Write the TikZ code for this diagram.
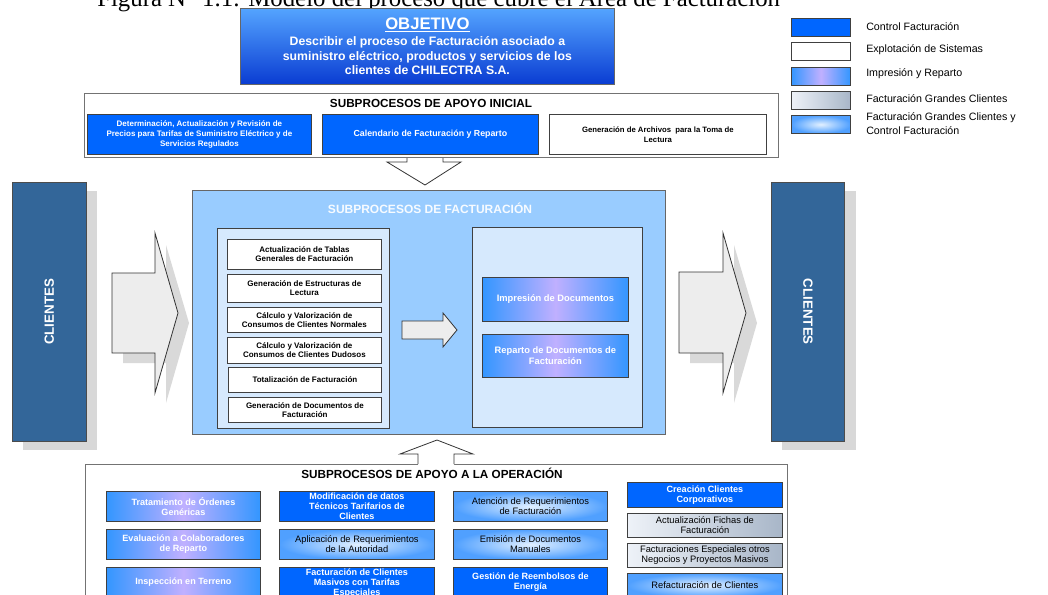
\documentclass[tikz,border=0pt]{standalone}
\usepackage{fontspec}
\setmainfont{Liberation Sans}
\newfontfamily\capfont{Liberation Serif}

\definecolor{ctrlblue}{RGB}{0,102,255}
\definecolor{imblue}{RGB}{51,150,255}
\definecolor{imlav}{RGB}{192,176,255}
\definecolor{gcleft}{RGB}{238,242,248}
\definecolor{gcright}{RGB}{168,182,200}
\definecolor{gccin}{RGB}{226,240,255}
\definecolor{gccout}{RGB}{80,160,255}
\definecolor{objtop}{RGB}{84,164,255}
\definecolor{objbot}{RGB}{10,60,210}
\definecolor{factbg}{RGB}{153,204,255}
\definecolor{panelbg}{RGB}{214,233,253}
\definecolor{cliblue}{RGB}{51,102,153}
\definecolor{shadowgray}{RGB}{216,216,216}

% box given by its top-left and bottom-right corners (pixel units)
\newcommand\bx[7]{\node[#1, anchor=north west, minimum width={(#5-#3)*0.75pt}, minimum height={(#6-#4)*0.75pt}] (#2) at (#3,#4) {#7};}

\begin{document}
\begin{tikzpicture}[x=0.75pt,y=-0.75pt,
  base/.style={draw=black!75, line width=0.6pt, inner sep=1pt, align=center},
  small/.style={font=\fontsize{7pt}{7.6pt}\selectfont},
  smallb/.style={font=\bfseries\fontsize{6.8pt}{7.6pt}\selectfont},
  ctrl/.style={base, fill=ctrlblue, text=white, smallb},
  expl/.style={base, fill=white, text=black},
  impr/.style={base, left color=imblue, right color=imblue, middle color=imlav, text=white, smallb},
  gcli/.style={base, left color=gcleft, right color=gcright, text=black, small},
  gcc/.style={base, inner color=gccin, outer color=gccout, text=black, small},
  leg/.style={draw=black!75, line width=0.6pt},
  legtext/.style={anchor=west, inner sep=0pt, align=left, font=\fontsize{8pt}{10.5pt}\selectfont},
  frame/.style={draw=black!55, line width=0.8pt, fill=white},
  title/.style={inner sep=0pt, font=\bfseries\fontsize{8.8pt}{10pt}\selectfont},
  factbox/.style={base, fill=white, text=black, font=\bfseries\fontsize{6pt}{7pt}\selectfont},
  bigarrow/.style={draw=black!80, line width=0.6pt, fill=black!7},
  arrowshadow/.style={fill=black!15, draw=none},
  clientes/.style={draw=black!70, line width=0.6pt, fill=cliblue, text=white, font=\bfseries\fontsize{10pt}{12pt}\selectfont},
]
\useasboundingbox (0,0) rectangle (1048,595);
\clip (0,0) rectangle (1048,595);

% caption line running off the top edge
\node[anchor=base west, inner sep=0pt, font=\capfont\fontsize{18.6pt}{20pt}\selectfont] (cap) at (97,7)
  {Figura N° 1.1: Modelo del proceso que cubre el Área de Facturación};

% objective
\bx{base, draw=black!60, top color=objtop, bottom color=objbot, text=white, font=\bfseries\fontsize{9.2pt}{11pt}\selectfont}{obj}{240}{8}{614}{84}
  {{\fontsize{12.5pt}{14pt}\selectfont\underline{OBJETIVO}}\\[1pt]
   Describir el proceso de Facturación asociado a\\
   suministro eléctrico, productos y servicios de los\\
   clientes de CHILECTRA S.A.}

% legend
\bx{leg, fill=ctrlblue}{leg1}{791}{18}{850}{36}{}
\bx{leg, fill=white}{leg2}{791}{42}{850}{60}{}
\bx{leg, left color=imblue, right color=imblue, middle color=imlav}{leg3}{791}{67}{850}{85}{}
\bx{leg, left color=gcleft, right color=gcright}{leg4}{791}{91}{850}{109}{}
\bx{leg, inner color=gccin, outer color=gccout}{leg5}{791}{115}{850}{133}{}
\node[legtext] (lt1) at (866,27) {Control Facturación};
\node[legtext] (lt2) at (866,50) {Explotación de Sistemas};
\node[legtext] (lt3) at (866,74) {Impresión y Reparto};
\node[legtext] (lt4) at (866,99) {Facturación Grandes Clientes};
\node[legtext] (lt5) at (866,124) {Facturación Grandes Clientes y\\Control Facturación};

% arrow from the initial support block down into billing
\draw[draw=black!80, line width=0.6pt, fill=white]
  (407,150) -- (407,162) -- (387,162) -- (425,185) -- (461,162) -- (443,162) -- (443,150);

% initial support subprocesses
\bx{frame}{apini}{84}{93}{778}{157}{}
\node[title] (apinit) at (431,103) {SUBPROCESOS DE APOYO INICIAL};
\bx{ctrl, font=\bfseries\fontsize{6pt}{7.4pt}\selectfont}{ai1}{87}{114}{311}{154}
  {Determinación, Actualización y Revisión de\\Precios para Tarifas de Suministro Eléctrico y de\\Servicios Regulados}
\bx{ctrl, font=\bfseries\fontsize{6.6pt}{8pt}\selectfont}{ai2}{322}{114}{538}{154}
  {Calendario de Facturación y Reparto}
\bx{expl, font=\bfseries\fontsize{5.8pt}{7.4pt}\selectfont}{ai3}{549}{114}{766}{154}
  {Generación de Archivos\ \ para la Toma de\\Lectura}

% customers on both sides
\fill[shadowgray] (23,191) rectangle (97,450);
\bx{clientes}{cliL}{12}{182}{86}{441}{}
\node[clientes, draw=none, fill=none, rotate=90] (cliLt) at (cliL.center) {CLIENTES};
\fill[shadowgray] (782,191) rectangle (856,450);
\bx{clientes}{cliR}{771}{182}{844}{441}{}
\node[clientes, draw=none, fill=none, rotate=-90] (cliRt) at (cliR.center) {CLIENTES};

% wide arrows towards and away from billing
\fill[arrowshadow] (123,283) -- (166,283) -- (166,245) -- (189,323) -- (166,403) -- (166,363) -- (123,363) -- cycle;
\draw[bigarrow] (112,273) -- (155,273) -- (155,233) -- (178,313) -- (155,393) -- (155,353) -- (112,353) -- cycle;
\fill[arrowshadow] (690,283) -- (734,283) -- (734,245) -- (757,323) -- (734,403) -- (734,363) -- (690,363) -- cycle;
\draw[bigarrow] (679,272) -- (723,272) -- (723,233) -- (746,313) -- (723,393) -- (723,353) -- (679,353) -- cycle;

% billing subprocesses
\bx{base, draw=black!60, fill=factbg}{fact}{192}{190}{665}{434}{}
\node[title, text=white!92!factbg, font=\bfseries\fontsize{9pt}{10pt}\selectfont] (factt) at (430,208) {SUBPROCESOS DE FACTURACIÓN};
\bx{base, fill=panelbg}{panL}{217}{228}{389}{428}{}
\bx{base, fill=panelbg}{panR}{472}{227}{642}{427}{}

\bx{factbox}{f1}{227}{239}{381}{269}{Actualización de Tablas\\Generales de Facturación}
\bx{factbox}{f2}{227}{274}{381}{302}{Generación de Estructuras de\\Lectura}
\bx{factbox}{f3}{227}{307}{381}{332}{Cálculo y Valorización de\\Consumos de Clientes Normales}
\bx{factbox}{f4}{227}{337}{381}{363}{Cálculo y Valorización de\\Consumos de Clientes Dudosos}
\bx{factbox}{f5}{228}{367}{381}{392}{Totalización de Facturación}
\bx{factbox}{f6}{228}{397}{381}{422}{Generación de Documentos de\\Facturación}

\draw[bigarrow] (402,321) -- (443,321) -- (443,313) -- (457,330) -- (443,347) -- (443,339) -- (402,339) -- cycle;

\bx{impr, font=\bfseries\fontsize{7pt}{8.6pt}\selectfont}{r1}{482}{277}{628}{321}{Impresión de Documentos}
\bx{impr, font=\bfseries\fontsize{7pt}{8.6pt}\selectfont}{r2}{482}{334}{628}{377}{Reparto de Documentos de\\Facturación}

% operation support subprocesses
\bx{frame}{apop}{85}{464}{787}{640}{}
\fill[white] (418,466) -- (418,454) -- (400,454) -- (437,440) -- (473,454) -- (454,454) -- (454,466) -- cycle;
\draw[draw=black!80, line width=0.6pt]
  (418,464) -- (418,454) -- (400,454) -- (437,440) -- (473,454) -- (454,454) -- (454,464);
\node[title] (apopt) at (432,473) {SUBPROCESOS DE APOYO A LA OPERACIÓN};

\bx{impr}{o11}{106}{491}{260}{521}{Tratamiento de Órdenes\\Genéricas}
\bx{impr}{o12}{106}{529}{260}{559}{Evaluación a Colaboradores\\de Reparto}
\bx{impr}{o13}{106}{567}{260}{597}{Inspección en Terreno}

\bx{ctrl}{o21}{279}{491}{434}{521}{Modificación de datos\\Técnicos Tarifarios de\\Clientes}
\bx{gcc}{o22}{279}{529}{434}{559}{Aplicación de Requerimientos\\de la Autoridad}
\bx{ctrl}{o23}{279}{567}{434}{597}{Facturación de Clientes\\Masivos con Tarifas\\Especiales}

\bx{gcc}{o31}{453}{491}{607}{521}{Atención de Requerimientos\\de Facturación}
\bx{gcc}{o32}{453}{529}{607}{559}{Emisión de Documentos\\Manuales}
\bx{ctrl}{o33}{453}{567}{607}{597}{Gestión de Reembolsos de\\Energía}

\bx{ctrl}{o41}{627}{482}{782}{507}{Creación Clientes\\Corporativos}
\bx{gcli}{o42}{627}{513}{782}{537}{Actualización Fichas de\\Facturación}
\bx{gcli}{o43}{627}{543}{782}{567}{Facturaciones Especiales otros\\Negocios y Proyectos Masivos}
\bx{gcc}{o44}{627}{573}{782}{597}{Refacturación de Clientes}
\end{tikzpicture}
\end{document}
